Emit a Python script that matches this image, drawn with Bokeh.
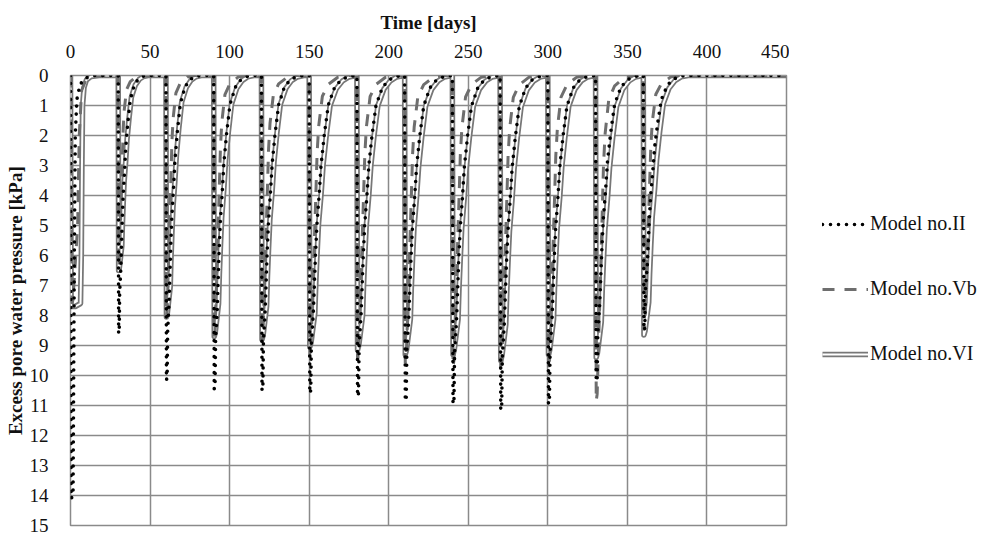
from bokeh.plotting import figure
from bokeh.layouts import row
from bokeh.models import Range1d, FixedTicker, Legend, LegendItem, Title
from bokeh.embed import file_html
from bokeh.resources import INLINE

# ---------------- data ----------------
pulse_days = [0, 30, 60, 90, 120, 150, 180, 210, 240, 270, 300, 330, 360]
end_day = 450
x_ticks = [0, 50, 100, 150, 200, 250, 300, 350, 400, 450]
y_ticks = list(range(0, 16))
series_names = ["Model no.II", "Model no.Vb", "Model no.VI"]

# peak excess pore water pressure at each loading pulse [kPa]
peak_II = [14.1, 8.6, 10.15, 10.45, 10.5, 10.6, 10.7, 10.85, 10.95, 11.15, 10.95, 10.2, 8.5]
peak_Vb = [7.6, 6.4, 8.0, 8.7, 8.9, 9.4, 9.5, 9.6, 9.7, 9.9, 9.8, 10.85, 8.5]
peak_VI = [7.7, 6.5, 8.05, 8.7, 8.8, 9.05, 9.15, 9.3, 9.3, 9.5, 9.3, 9.4, 8.65]
# relative duration of the dissipation after each pulse (pulse at day 180 = 1)
recovery_scale = [1.0, 0.63, 0.75, 0.85, 0.9, 1.0, 1.0, 1.0, 1.0, 1.0, 1.0, 1.0, 0.95]

# first pulse (day 0): days after loading and pressure [kPa]
first_II_days = [0, 0.4, 1.6, 2.4, 3.0, 4.0, 6.0, 9.0, 14.0]
first_II_kpa = [0, 14.1, 14.0, 6.0, 2.0, 0.8, 0.3, 0.1, 0]
first_Vb_days = [0, 0.4, 1.5, 4.5, 5.5, 7.0, 10.0, 15.0]
first_Vb_kpa = [0, 7.6, 7.5, 5.0, 2.0, 0.5, 0.1, 0]
first_VI_days = [0, 0.4, 3.0, 6.3, 6.8, 7.2, 7.6, 8.5, 10.0, 13.0, 18.0]
first_VI_kpa = [0, 7.7, 7.7, 7.6, 6.0, 3.0, 1.0, 0.4, 0.15, 0.03, 0]

# typical pulse (read at the pulse of day 180): days after loading and pressure [kPa]
shape_II_days = [0, 0.4, 1.0, 1.4, 2.6, 3.3, 4.0, 4.9, 6.3, 7.5, 9.5, 12.0, 16.0, 20.0, 25.0, 29.5]
shape_II_kpa = [0, 10.7, 10.6, 9.0, 8.0, 7.0, 6.0, 5.0, 4.0, 3.0, 2.0, 1.0, 0.4, 0.15, 0.03, 0]
shape_Vb_days = [0, 0.4, 1.0, 1.8, 2.4, 3.0, 3.6, 4.2, 5.0, 6.0, 8.3, 12.0, 18.0, 24.0]
shape_Vb_kpa = [0, 9.5, 9.3, 8.0, 7.0, 6.0, 5.0, 4.0, 2.6, 1.7, 0.7, 0.3, 0.06, 0]
shape_VI_days = [0, 0.4, 1.2, 3.6, 4.2, 5.0, 5.9, 7.5, 8.8, 10.8, 13.2, 17.0, 21.0, 25.0, 29.5]
shape_VI_kpa = [0, 9.15, 9.0, 8.0, 7.0, 6.0, 5.0, 4.0, 3.0, 2.0, 1.0, 0.45, 0.18, 0.05, 0]


def build(first_days, first_kpa, shape_days, shape_kpa, peaks):
    xs, ys = [], []
    for i, (t0, pk, s) in enumerate(zip(pulse_days, peaks, recovery_scale)):
        d_arr, k_arr = (first_days, first_kpa) if i == 0 else (shape_days, shape_kpa)
        ref = max(k_arr)
        xs += [t0 + d * s for d in d_arr]
        ys += [k / ref * pk for k in k_arr]
    xs.append(end_day)
    ys.append(0)
    return xs, ys


x_II, y_II = build(first_II_days, first_II_kpa, shape_II_days, shape_II_kpa, peak_II)
x_Vb, y_Vb = build(first_Vb_days, first_Vb_kpa, shape_Vb_days, shape_Vb_kpa, peak_Vb)
x_VI, y_VI = build(first_VI_days, first_VI_kpa, shape_VI_days, shape_VI_kpa, peak_VI)

# ---------------- styles ----------------
SERIF = "Liberation Serif"
GRID = "#8a8a8a"
STY_VI = dict(line_color="#777777", line_width=5.5, line_join="round")
STY_VI2 = dict(line_color="white", line_width=2, line_join="round")
STY_VB = dict(line_color="#6e6e6e", line_width=3, line_dash="12 10")
STY_II = dict(line_color="black", line_width=3.6, line_dash="0 8", line_cap="round", line_join="round")

# ---------------- main chart ----------------
p = figure(width=789, height=536, frame_width=716, frame_height=450,
           output_backend="svg", toolbar_location=None,
           x_range=Range1d(0, 450), y_range=Range1d(15, 0),
           x_axis_location="above",
           min_border_left=70, min_border_right=3, min_border_top=75, min_border_bottom=11)
p.background_fill_color = "white"
p.border_fill_color = "white"
p.outline_line_color = GRID
p.outline_line_width = 1.5

p.xaxis.ticker = FixedTicker(ticks=x_ticks)
p.yaxis.ticker = FixedTicker(ticks=y_ticks)
for ax in (p.xaxis[0], p.yaxis[0]):
    ax.axis_line_color = None
    ax.major_tick_line_color = None
    ax.minor_tick_line_color = None
    ax.major_label_text_font = SERIF
    ax.major_label_text_font_size = "19px"
    ax.major_label_text_color = "#111111"
p.xaxis.major_label_standoff = 12
p.yaxis.major_label_standoff = 16

p.xgrid.ticker = FixedTicker(ticks=x_ticks)
p.ygrid.ticker = FixedTicker(ticks=y_ticks)
p.grid.grid_line_color = GRID
p.grid.grid_line_width = 1.5

p.add_layout(Title(text="Time [days]", align="center", offset=11,
                   text_font=SERIF, text_font_size="19px", text_font_style="bold",
                   text_color="#111111", standoff=17), "above")
p.add_layout(Title(text="Excess pore water pressure [kPa]", align="center", offset=31,
                   text_font=SERIF, text_font_size="19px", text_font_style="bold",
                   text_color="#111111", standoff=2), "left")

p.line(x_VI, y_VI, **STY_VI)
p.line(x_VI, y_VI, **STY_VI2)
p.line(x_Vb, y_Vb, **STY_VB)
p.line(x_II, y_II, **STY_II)

# ---------------- legend panel ----------------
q = figure(width=200, height=536, output_backend="svg", toolbar_location=None,
           x_range=Range1d(0, 1), y_range=Range1d(0, 1),
           x_axis_type=None, y_axis_type=None,
           min_border_left=0, min_border_right=0, min_border_top=0, min_border_bottom=0)
q.outline_line_color = None
q.grid.visible = False
q.background_fill_color = "white"
q.border_fill_color = "white"
# the legend's lines carry the same styles; their own points sit outside the view
hidden_x, hidden_y = [5, 6], [5, 5]
l_ii = q.line(hidden_x, hidden_y, **STY_II)
l_vb = q.line(hidden_x, hidden_y, **STY_VB)
l_vi = q.line(hidden_x, hidden_y, **STY_VI)
l_vi2 = q.line(hidden_x, hidden_y, **STY_VI2)

legend = Legend(items=[LegendItem(label=series_names[0], renderers=[l_ii]),
                       LegendItem(label=series_names[1], renderers=[l_vb]),
                       LegendItem(label=series_names[2], renderers=[l_vi, l_vi2])],
                location=(33, 160), orientation="vertical",
                label_text_font=SERIF, label_text_font_size="20px", label_text_color="#111111",
                glyph_width=46, glyph_height=20, label_height=20, label_standoff=2,
                spacing=42, padding=0, margin=0,
                border_line_color=None, background_fill_alpha=0)
q.add_layout(legend, "center")

layout = row(p, q, spacing=0)
open("out.html", "w").write(file_html(layout, INLINE))
